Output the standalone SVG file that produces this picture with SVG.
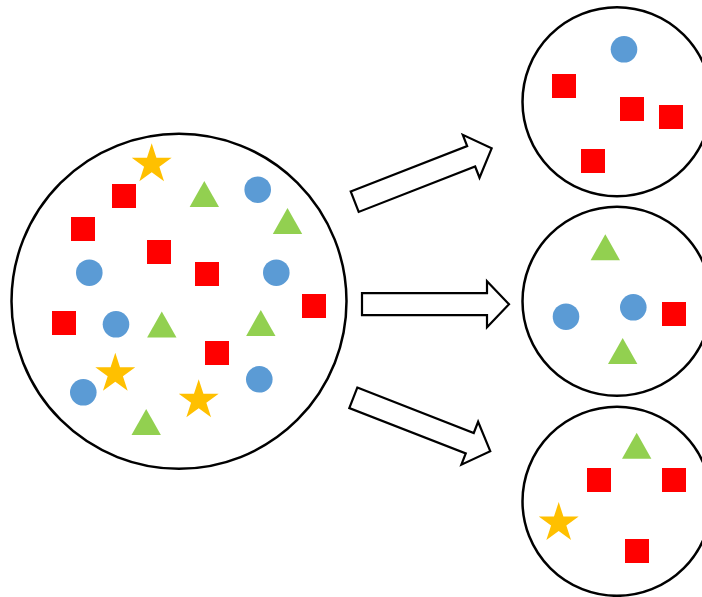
<svg xmlns="http://www.w3.org/2000/svg" xmlns:xlink="http://www.w3.org/1999/xlink" width="702" height="597" viewBox="0 0 702 597">
<style>
.ring{fill:#fff;stroke:#000;stroke-width:2.5}
.sq{fill:#FF0000}
.dot{fill:#5B9BD5}
.tri{fill:#92D050}
.star{fill:#FFC000}
.arrow{fill:#fff;stroke:#000;stroke-width:2.2;stroke-linejoin:miter}
</style>
<defs>
<polygon id="star" points="0,-21 4.71,-6.49 19.97,-6.49 7.63,2.48 12.34,16.99 0,8.02 -12.34,16.99 -7.63,2.48 -19.97,-6.49 -4.71,-6.49"/>
<polygon id="tri" points="0,0 14.7,26 -14.7,26"/>
<path id="arr" d="M0,-11 H125 V-23 L147,0 L125,23 V11 H0 Z"/>
</defs>
<rect width="702" height="597" fill="#fff"/>

<g id="source">
<circle class="ring" cx="179" cy="301.3" r="167.5"/>
<rect class="sq" x="112" y="184" width="24" height="24"/>
<rect class="sq" x="71" y="217" width="24" height="24"/>
<rect class="sq" x="147" y="240" width="24" height="24"/>
<rect class="sq" x="195" y="262" width="24" height="24"/>
<rect class="sq" x="302" y="294" width="24" height="24"/>
<rect class="sq" x="52" y="311" width="24" height="24"/>
<rect class="sq" x="205" y="341" width="24" height="24"/>
<circle class="dot" cx="257.7" cy="189.7" r="13.3"/>
<circle class="dot" cx="89.3" cy="272.7" r="13.3"/>
<circle class="dot" cx="276.3" cy="272.7" r="13.3"/>
<circle class="dot" cx="116" cy="324.3" r="13.3"/>
<circle class="dot" cx="259.3" cy="379.3" r="13.3"/>
<circle class="dot" cx="83.3" cy="392.3" r="13.3"/>
<use class="tri" href="#tri" x="204.3" y="181"/>
<use class="tri" href="#tri" x="287.5" y="208"/>
<use class="tri" href="#tri" x="161.8" y="311.5"/>
<use class="tri" href="#tri" x="260.8" y="310"/>
<use class="tri" href="#tri" x="146.2" y="409"/>
<use class="star" href="#star" x="151.7" y="164.3"/>
<use class="star" href="#star" x="115.3" y="373.7"/>
<use class="star" href="#star" x="198.7" y="400.3"/>
</g>

<g id="subset1">
<circle class="ring" cx="617" cy="101.7" r="94.5"/>
<circle class="dot" cx="624" cy="49.3" r="13.3"/>
<rect class="sq" x="552" y="74" width="24" height="24"/>
<rect class="sq" x="620" y="97" width="24" height="24"/>
<rect class="sq" x="659" y="105" width="24" height="24"/>
<rect class="sq" x="581" y="149" width="24" height="24"/>
</g>

<g id="subset2">
<circle class="ring" cx="617" cy="301.3" r="94.5"/>
<use class="tri" href="#tri" x="605.3" y="234.3"/>
<circle class="dot" cx="566" cy="316.7" r="13.3"/>
<circle class="dot" cx="633.3" cy="307.3" r="13.3"/>
<rect class="sq" x="662" y="302" width="24" height="24"/>
<use class="tri" href="#tri" x="622.7" y="338"/>
</g>

<g id="subset3">
<circle class="ring" cx="617" cy="501.3" r="94.5"/>
<use class="tri" href="#tri" x="636.7" y="432.7"/>
<rect class="sq" x="587" y="468" width="24" height="24"/>
<rect class="sq" x="662" y="468" width="24" height="24"/>
<rect class="sq" x="625" y="539" width="24" height="24"/>
<use class="star" href="#star" x="558.7" y="523"/>
</g>

<g id="connectors">
<use class="arrow" href="#arr" transform="translate(354.7,201.7) rotate(-21.3)"/>
<use class="arrow" href="#arr" transform="translate(362,304.2)"/>
<use class="arrow" href="#arr" transform="translate(353.3,397.8) rotate(21.3)"/>
</g>
</svg>
